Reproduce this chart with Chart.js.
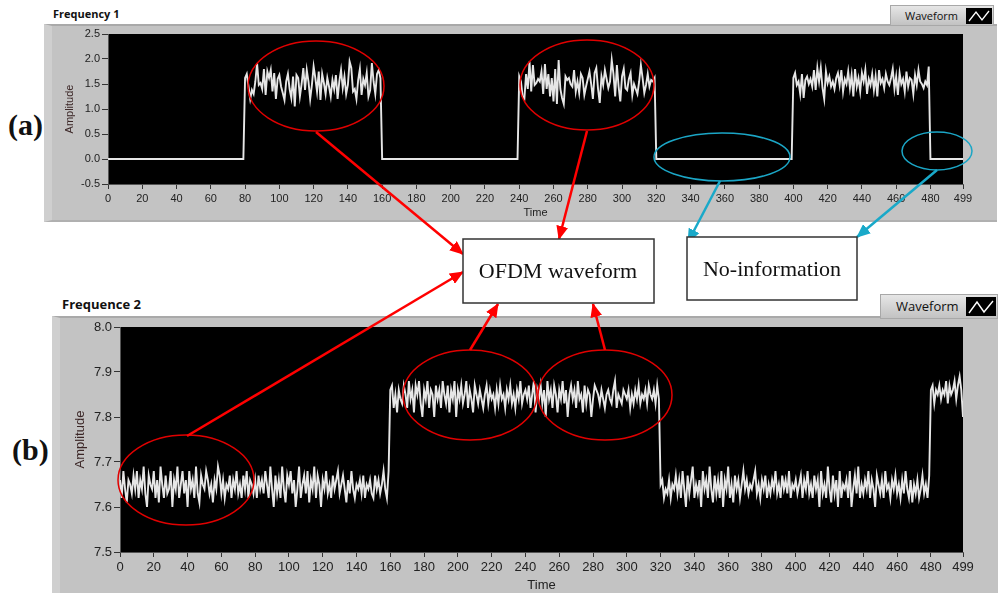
<!DOCTYPE html>
<html>
<head>
<meta charset="utf-8">
<script src="https://cdn.jsdelivr.net/npm/chart.js@4"></script>
<style>
  html, body { margin: 0; padding: 0; background: #fff; }
  #wrap { position: relative; width: 998px; height: 593px; overflow: hidden; background: #fff; font-family: "Open Sans", sans-serif; }
  .panel { position: absolute; background: #c3c3c3; border-top: 2px solid #a9a9a9; border-left: 8px solid #cfcfcf; box-sizing: border-box; }
  .ptitle { position: absolute; font-weight: bold; color: #111; white-space: nowrap; }
  .legend { position: absolute; box-sizing: border-box; background: linear-gradient(#e6e6e6, #c2c2c2); border: 1px solid #a8a8a8; color: #111; white-space: nowrap; }
  .legend span { position: absolute; }
  .legend svg { position: absolute; background: #000; }
  .tag { position: absolute; font-family: "Liberation Serif", serif; font-weight: bold; font-size: 30px; color: #111; }
  canvas { position: absolute; }
  #notes { position: absolute; left: 0; top: 0; }
</style>
</head>
<body>
<div id="wrap">
  <div class="ptitle" style="left:53px;top:6px;font-size:11px;">Frequency 1</div>
  <div class="panel" style="left:44px;top:24px;width:953px;height:198px;border-bottom:2px solid #b0b0b0;"></div>
  <div class="legend" style="left:890px;top:5px;width:104px;height:21px;">
    <span style="left:14px;top:2px;font-size:11px;">Waveform</span>
    <svg width="26" height="16" style="left:75px;top:2px;"><polyline points="3,13 10,4 16,12 23,3" fill="none" stroke="#fff" stroke-width="1.3"/></svg>
  </div>
  <canvas id="freq1" width="953" height="198" style="left:44px;top:24px;"></canvas>

  <div class="ptitle" style="left:62px;top:295px;font-size:13px;">Frequence 2</div>
  <div class="panel" style="left:52px;top:316px;width:946px;height:277px;"></div>
  <div class="legend" style="left:880px;top:294px;width:118px;height:25px;">
    <span style="left:15px;top:2px;font-size:13px;">Waveform</span>
    <svg width="30" height="19" style="left:85px;top:2px;"><polyline points="3,16 11,5 18,15 27,4" fill="none" stroke="#fff" stroke-width="1.4"/></svg>
  </div>
  <canvas id="freq2" width="945" height="277" style="left:52px;top:316px;"></canvas>

  <div class="tag" style="left:8px;top:108px;">(a)</div>
  <div class="tag" style="left:12px;top:433px;">(b)</div>

  <svg id="notes" width="998" height="593">
    <defs>
      <marker id="redHead" markerUnits="userSpaceOnUse" markerWidth="14" markerHeight="12" refX="13" refY="6" orient="auto">
        <path d="M0,0 L14,6 L0,12 Z" fill="#ff0000"/>
      </marker>
      <marker id="cyanHead" markerUnits="userSpaceOnUse" markerWidth="14" markerHeight="12" refX="13" refY="6" orient="auto">
        <path d="M0,0 L14,6 L0,12 Z" fill="#19a9c9"/>
      </marker>
    </defs>
    <g fill="none" stroke="#e00000" stroke-width="1.5">
      <ellipse cx="316" cy="86" rx="68" ry="45"/>
      <ellipse cx="587" cy="85" rx="67" ry="45"/>
      <ellipse cx="186" cy="480" rx="68" ry="45"/>
      <ellipse cx="470" cy="395" rx="67" ry="45"/>
      <ellipse cx="605" cy="395" rx="67" ry="45"/>
    </g>
    <g fill="none" stroke="#1ba6c6" stroke-width="1.5">
      <ellipse cx="722" cy="157" rx="68" ry="24"/>
      <ellipse cx="937" cy="151" rx="35" ry="19"/>
    </g>
    <g stroke="#ff0000" stroke-width="2.5" marker-end="url(#redHead)">
      <line x1="316" y1="132" x2="463" y2="254"/>
      <line x1="587" y1="131" x2="559" y2="239"/>
      <line x1="187" y1="436" x2="463" y2="272"/>
      <line x1="470" y1="350" x2="498" y2="304"/>
      <line x1="605" y1="350" x2="593" y2="304"/>
    </g>
    <g stroke="#19a9c9" stroke-width="2.5" marker-end="url(#cyanHead)">
      <line x1="720" y1="181" x2="688" y2="242"/>
      <line x1="937" y1="170" x2="857" y2="237"/>
    </g>
    <g fill="#fff" stroke="#333" stroke-width="1.5">
      <rect x="463" y="239" width="191" height="64"/>
      <rect x="687" y="237" width="170" height="63"/>
    </g>
    <g font-family="Liberation Serif, serif" font-size="22" fill="#111" text-anchor="middle">
      <text x="558" y="278">OFDM waveform</text>
      <text x="772" y="276">No-information</text>
    </g>
  </svg>
</div>

<script>
// tick labels
const timeTicks = [0, 20, 40, 60, 80, 100, 120, 140, 160, 180, 200, 220, 240, 260, 280, 300, 320, 340, 360, 380, 400, 420, 440, 460, 480, 499];
const f1AmpTicks = [-0.5, 0, 0.5, 1.0, 1.5, 2.0, 2.5];
const f2AmpTicks = [7.5, 7.6, 7.7, 7.8, 7.9, 8.0];

// Frequency 1: silent spans (amplitude 0) and OFDM bursts
const f1SilentSpans = [[0, 79], [160, 239], [320, 399], [480, 499]];
const f1BurstStarts = [80, 240, 400];
const f1Burst1 = [
  1.62, 1.70, 1.45, 1.20, 1.38, 1.30, 1.55, 1.92, 1.48, 1.52,
  1.40, 1.80, 1.28, 1.75, 1.62, 1.78, 1.35, 1.72, 1.20, 1.60,
  1.68, 1.45, 1.32, 1.18, 1.55, 1.70, 1.40, 1.22, 1.65, 1.05,
  1.68, 1.62, 1.25, 1.50, 1.82, 1.38, 1.78, 1.55, 1.20, 1.48,
  1.85, 1.62, 1.35, 1.75, 1.18, 1.70, 1.52, 1.30, 1.62, 1.45,
  1.25, 1.58, 1.40, 1.68, 1.20, 1.55, 1.78, 1.42, 1.65, 1.30,
  1.48, 1.95, 1.82, 1.35, 1.40, 1.20, 1.58, 1.80, 1.28, 1.60,
  1.48, 1.72, 1.25, 1.38, 1.92, 1.55, 1.30, 1.70, 1.78, 1.62
];
const f1Burst2 = [
  1.65, 1.55, 1.25, 1.20, 1.70, 1.40, 1.95, 1.35, 1.88, 1.48,
  1.52, 1.60, 1.55, 1.75, 1.30, 1.90, 1.40, 1.70, 1.25, 1.62,
  1.15, 1.80, 1.10, 1.98, 1.40, 1.22, 1.10, 1.65, 1.58, 1.62,
  1.50, 1.45, 1.78, 1.35, 1.55, 1.32, 1.70, 1.62, 1.28, 1.45,
  1.60, 1.75, 1.50, 1.20, 1.72, 1.82, 1.40, 1.12, 1.65, 1.48,
  1.78, 1.60, 1.42, 1.55, 1.98, 1.70, 1.25, 1.88, 1.45, 1.15,
  1.65, 1.80, 1.42, 1.38, 1.60, 1.72, 1.28, 1.50, 1.40, 1.30,
  1.55, 1.88, 1.62, 1.32, 1.48, 1.70, 1.45, 1.58, 1.55, 1.62
];
const f1Burst3 = [
  1.62, 1.72, 1.48, 1.55, 1.30, 1.70, 1.22, 1.58, 1.65, 1.50,
  1.60, 1.45, 1.78, 1.38, 1.82, 1.55, 1.82, 1.42, 1.20, 1.75,
  1.52, 1.65, 1.45, 1.55, 1.40, 1.62, 1.72, 1.48, 1.78, 1.35,
  1.60, 1.50, 1.75, 1.42, 1.68, 1.25, 1.80, 1.45, 1.62, 1.35,
  1.72, 1.55, 1.78, 1.30, 1.60, 1.48, 1.70, 1.38, 1.65, 1.25,
  1.78, 1.52, 1.60, 1.42, 1.70, 1.55, 1.48, 1.62, 1.80, 1.40,
  1.65, 1.28, 1.72, 1.50, 1.60, 1.35, 1.75, 1.45, 1.62, 1.58,
  1.30, 1.68, 1.48, 1.78, 1.55, 1.50, 1.42, 1.55, 1.48, 1.85
];

// Frequence 2: four segments starting at these times
const f2SegmentStarts = [0, 160, 320, 480];
const f2Low1 = [
  7.66, 7.62, 7.68, 7.64, 7.61, 7.66, 7.65, 7.63, 7.67, 7.64,
  7.68, 7.62, 7.66, 7.64, 7.69, 7.63, 7.60, 7.67, 7.65, 7.64,
  7.68, 7.62, 7.66, 7.61, 7.69, 7.65, 7.62, 7.67, 7.63, 7.64,
  7.68, 7.60, 7.66, 7.64, 7.69, 7.62, 7.65, 7.68, 7.63, 7.66,
  7.60, 7.68, 7.64, 7.66, 7.62, 7.69, 7.63, 7.61, 7.67, 7.65,
  7.64, 7.68, 7.66, 7.63, 7.65, 7.61, 7.66, 7.64, 7.69, 7.67,
  7.63, 7.66, 7.62, 7.65, 7.64, 7.67, 7.62, 7.66, 7.64, 7.68,
  7.63, 7.65, 7.62, 7.67, 7.64, 7.68, 7.62, 7.66, 7.65, 7.63,
  7.66, 7.62, 7.67, 7.64, 7.66, 7.63, 7.68, 7.65, 7.62, 7.69,
  7.64, 7.60, 7.67, 7.63, 7.66, 7.62, 7.69, 7.64, 7.61, 7.67,
  7.65, 7.68, 7.63, 7.66, 7.60, 7.64, 7.69, 7.62, 7.65, 7.67,
  7.63, 7.68, 7.61, 7.66, 7.64, 7.69, 7.62, 7.67, 7.65, 7.60,
  7.66, 7.64, 7.68, 7.63, 7.65, 7.62, 7.67, 7.64, 7.66, 7.68,
  7.63, 7.65, 7.67, 7.64, 7.61, 7.66, 7.63, 7.68, 7.64, 7.62,
  7.65, 7.64, 7.66, 7.63, 7.67, 7.62, 7.65, 7.64, 7.66, 7.63,
  7.62, 7.67, 7.64, 7.66, 7.63, 7.65, 7.68, 7.64, 7.62, 7.68
];
const f2High1 = [
  7.86, 7.87, 7.82, 7.85, 7.81, 7.86, 7.84, 7.83, 7.87, 7.85,
  7.82, 7.88, 7.84, 7.86, 7.81, 7.87, 7.85, 7.88, 7.83, 7.80,
  7.86, 7.84, 7.88, 7.82, 7.86, 7.85, 7.80, 7.87, 7.84, 7.86,
  7.82, 7.88, 7.85, 7.83, 7.87, 7.81, 7.86, 7.84, 7.88, 7.80,
  7.86, 7.84, 7.87, 7.83, 7.85, 7.88, 7.82, 7.86, 7.84, 7.81,
  7.87, 7.85, 7.83, 7.86, 7.84, 7.82, 7.85, 7.87, 7.83, 7.86,
  7.84, 7.85, 7.82, 7.86, 7.83, 7.87, 7.84, 7.85, 7.82, 7.86,
  7.84, 7.87, 7.83, 7.85, 7.82, 7.86, 7.84, 7.88, 7.83, 7.85,
  7.86, 7.84, 7.87, 7.82, 7.85, 7.88, 7.81, 7.86, 7.84, 7.87,
  7.83, 7.86, 7.80, 7.88, 7.84, 7.86, 7.82, 7.87, 7.85, 7.81,
  7.86, 7.84, 7.88, 7.83, 7.86, 7.80, 7.85, 7.87, 7.84, 7.86,
  7.82, 7.88, 7.84, 7.85, 7.81, 7.87, 7.83, 7.86, 7.85, 7.80,
  7.84, 7.87, 7.86, 7.85, 7.83, 7.86, 7.84, 7.82, 7.85, 7.86,
  7.84, 7.83, 7.86, 7.88, 7.82, 7.85, 7.84, 7.83, 7.86, 7.85,
  7.84, 7.86, 7.82, 7.85, 7.83, 7.86, 7.84, 7.87, 7.83, 7.85,
  7.84, 7.86, 7.83, 7.87, 7.85, 7.84, 7.86, 7.83, 7.87, 7.84
];
const f2Low2 = [
  7.65, 7.66, 7.62, 7.64, 7.63, 7.66, 7.62, 7.65, 7.64, 7.67,
  7.63, 7.66, 7.62, 7.68, 7.64, 7.60, 7.67, 7.63, 7.66, 7.69,
  7.62, 7.65, 7.63, 7.66, 7.60, 7.68, 7.64, 7.66, 7.62, 7.69,
  7.64, 7.61, 7.67, 7.63, 7.66, 7.62, 7.68, 7.60, 7.66, 7.64,
  7.69, 7.62, 7.65, 7.61, 7.67, 7.64, 7.66, 7.62, 7.65, 7.68,
  7.64, 7.66, 7.63, 7.65, 7.64, 7.66, 7.68, 7.63, 7.65, 7.62,
  7.66, 7.64, 7.67, 7.62, 7.65, 7.63, 7.66, 7.64, 7.68, 7.63,
  7.65, 7.62, 7.67, 7.64, 7.66, 7.63, 7.68, 7.62, 7.65, 7.64,
  7.66, 7.63, 7.65, 7.67, 7.62, 7.66, 7.64, 7.68, 7.63, 7.65,
  7.62, 7.67, 7.64, 7.66, 7.60, 7.68, 7.63, 7.65, 7.62, 7.69,
  7.64, 7.61, 7.67, 7.63, 7.66, 7.60, 7.68, 7.62, 7.65, 7.64,
  7.66, 7.62, 7.68, 7.60, 7.64, 7.67, 7.63, 7.69, 7.62, 7.65,
  7.63, 7.66, 7.64, 7.68, 7.62, 7.66, 7.64, 7.60, 7.67, 7.65,
  7.63, 7.66, 7.62, 7.68, 7.64, 7.65, 7.62, 7.66, 7.64, 7.67,
  7.63, 7.65, 7.62, 7.66, 7.63, 7.68, 7.64, 7.62, 7.66, 7.61,
  7.65, 7.63, 7.66, 7.62, 7.64, 7.67, 7.63, 7.65, 7.62, 7.67
];
const f2High2 = [
  7.86, 7.87, 7.83, 7.86, 7.85, 7.87, 7.84, 7.86, 7.85, 7.88,
  7.83, 7.87, 7.85, 7.86, 7.88, 7.84, 7.87, 7.89, 7.86, 7.80
];

function toPoints(start, values) {
  return values.map((v, i) => ({ x: start + i, y: v }));
}

const f1Points = [];
[f1Burst1, f1Burst2, f1Burst3].forEach((burst, k) => {
  const [a, b] = f1SilentSpans[k];
  f1Points.push({ x: a, y: 0 }, { x: b, y: 0 }, ...toPoints(f1BurstStarts[k], burst));
});
f1Points.push({ x: f1SilentSpans[3][0], y: 0 }, { x: f1SilentSpans[3][1], y: 0 });

const f2Points = [f2Low1, f2High1, f2Low2, f2High2]
  .flatMap((seg, k) => toPoints(f2SegmentStarts[k], seg));

// black plot area like the LabVIEW graph
const plotBackground = {
  id: 'plotBackground',
  beforeDraw(chart) {
    const { ctx, chartArea: a } = chart;
    ctx.save();
    ctx.fillStyle = '#000';
    ctx.fillRect(a.left, a.top, a.width, a.height);
    ctx.restore();
  }
};

function waveformChart(id, points, ampTicks, cfg) {
  return new Chart(document.getElementById(id), {
    type: 'line',
    data: {
      datasets: [{ data: points, borderColor: '#e6e6e6', borderWidth: 1.9, pointRadius: 0, tension: 0, fill: false }]
    },
    options: {
      responsive: false,
      animation: false,
      events: [],
      layout: { padding: { top: cfg.padTop, right: 34, left: 0, bottom: 0 } },
      plugins: { legend: { display: false }, tooltip: { enabled: false } },
      scales: {
        x: {
          type: 'linear', min: 0, max: 499,
          afterBuildTicks: (s) => { s.ticks = timeTicks.map((v) => ({ value: v })); },
          afterFit: (s) => { s.height = cfg.xHeight; },
          ticks: { autoSkip: false, maxRotation: 0, color: '#222', font: { size: cfg.font }, padding: 3, callback: (v) => v },
          grid: { drawOnChartArea: false, tickLength: 5, tickColor: '#333' },
          border: { color: '#555' },
          title: { display: true, text: 'Time', color: '#222', font: { size: cfg.font }, padding: { top: 0, bottom: cfg.timePad } }
        },
        y: {
          min: ampTicks[0], max: ampTicks[ampTicks.length - 1],
          afterBuildTicks: (s) => { s.ticks = ampTicks.map((v) => ({ value: v })); },
          afterFit: (s) => { s.width = cfg.yWidth; },
          ticks: { color: '#222', font: { size: cfg.font }, padding: 2, callback: (v) => Number(v).toFixed(1) },
          grid: { drawOnChartArea: false, tickLength: 6, tickColor: '#333' },
          border: { color: '#555' },
          title: { display: true, text: 'Amplitude', color: '#3b2626', font: { size: cfg.font }, padding: { top: cfg.ampPad, bottom: 0 } }
        }
      }
    },
    plugins: [plotBackground]
  });
}

waveformChart('freq1', f1Points, f1AmpTicks, { padTop: 10, xHeight: 38, yWidth: 64, font: 11, timePad: 2, ampPad: 19 });
waveformChart('freq2', f2Points, f2AmpTicks, { padTop: 11, xHeight: 41, yWidth: 68, font: 13, timePad: 0, ampPad: 21 });
</script>
</body>
</html>
